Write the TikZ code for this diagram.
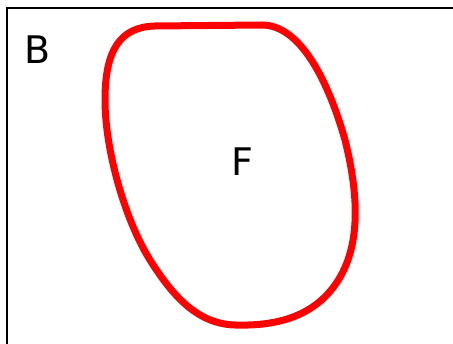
\documentclass[tikz,border=0pt]{standalone}
\usepackage{fontspec}
\setmainfont{DejaVu Sans}
\begin{document}
\begin{tikzpicture}[x=1pt,y=-1pt,
  lbl/.style={inner sep=0pt,font=\fontsize{38}{40}\selectfont},
  frame/.style={draw=black,line width=2pt},
  blob/.style={draw=red,line width=7pt,line join=round}]
\useasboundingbox (0,0) rectangle (453,344);
\draw[frame] (7,350) -- (7,7.7) -- (460,7.7);
\draw[blob] (155,26) -- (262,25)
  .. controls (300,25) and (328,80) .. (345,140)
  .. controls (360,200) and (360,250) .. (335,285)
  .. controls (310,320) and (270,326) .. (235,325)
  .. controls (200,324) and (175,300) .. (150,260)
  .. controls (125,220) and (105,150) .. (105,100)
  .. controls (105,50) and (120,27) .. cycle;
\node[lbl] (B) at (37.5,50) {B};
\node[lbl] (F) at (242,162) {F};
\end{tikzpicture}
\end{document}
